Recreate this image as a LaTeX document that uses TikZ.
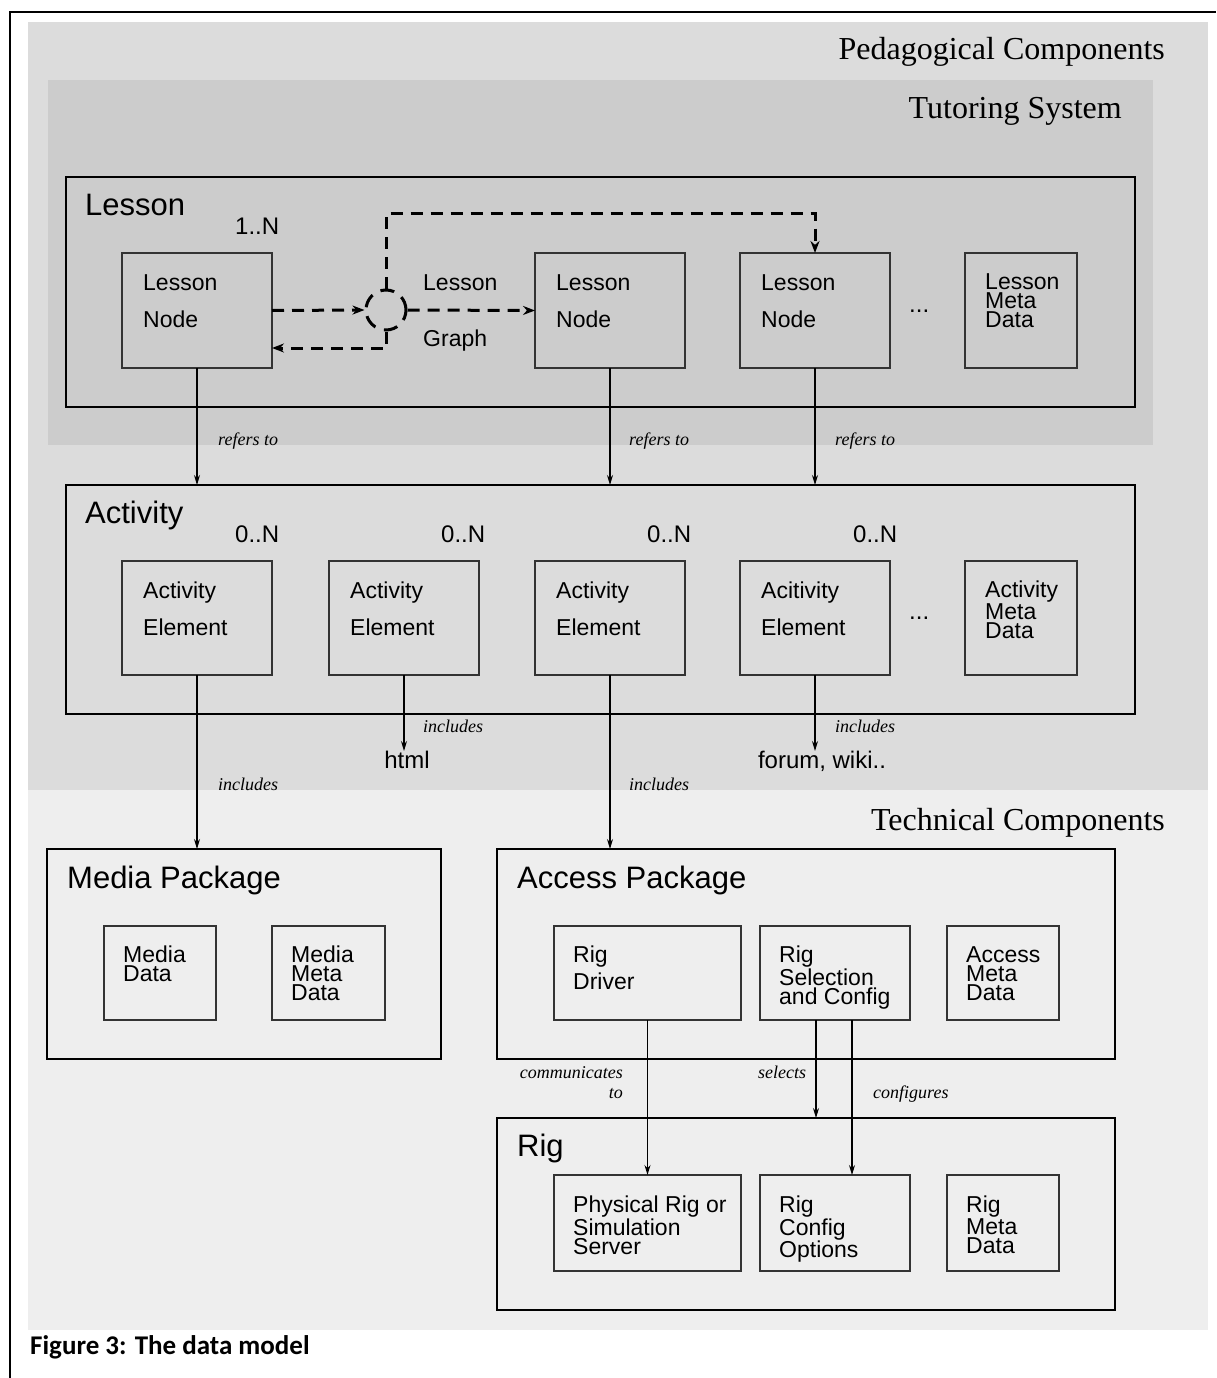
\documentclass[tikz,border=0pt]{standalone}
\usepackage{fontspec}
\setmainfont{Liberation Serif}
\setsansfont{Liberation Sans}
\newfontfamily\capfont{Carlito}
\usetikzlibrary{arrows.meta,calc}

\definecolor{pedbg}{HTML}{DCDCDC}
\definecolor{tutbg}{HTML}{CCCCCC}
\definecolor{techbg}{HTML}{EEEEEE}

\begin{document}
\begin{tikzpicture}[x=1pt,y=-1pt,
  frame/.style={draw=black, line width=1.4pt, inner sep=0pt, outer sep=0pt, anchor=north west},
  box/.style={draw=black!80, line width=1.1pt, inner sep=0pt, outer sep=0pt, anchor=north west},
  arr/.style={line width=1.1pt, -{Stealth[length=10pt,width=6pt]}},
  dasharr/.style={line width=3pt, dash pattern=on 12pt off 8pt, -{Stealth[length=12pt,width=9pt]}},
  txt/.style={font=\sffamily\fontsize{23}{37}\selectfont, align=left, inner sep=0pt, anchor=north west},
  mid/.style={font=\sffamily\fontsize{23}{27}\selectfont, align=left, inner sep=0pt, anchor=north west},
  tight/.style={font=\sffamily\fontsize{23}{19}\selectfont, align=left, inner sep=0pt, anchor=north west},
  ttl/.style={font=\sffamily\fontsize{31}{37}\selectfont, inner sep=0pt, anchor=base west},
  mult/.style={font=\sffamily\fontsize{24}{28}\selectfont, inner sep=0pt, anchor=base west},
  lab/.style={font=\itshape\fontsize{18}{20}\selectfont, inner sep=0pt, anchor=base west},
  head/.style={font=\fontsize{32}{36}\selectfont, inner sep=0pt, anchor=base east},
]
\useasboundingbox (0,0) rectangle (1216,1378);

% page frame
\draw[line width=1.6pt] (10,1378) -- (10,12) -- (1216,12);

% component areas
\fill[pedbg] (28,22) rectangle (1208,790);
\fill[techbg] (28,790) rectangle (1208,1330);
\fill[tutbg] (48,80) rectangle (1153,445);

\node[head] (ped) at (1165,60) {Pedagogical Components};
\node[head] (tut) at (1122,118) {Tutoring System};
\node[head] (tech) at (1165,830) {Technical Components};

% ---------- Lesson ----------
\node[frame, fill=tutbg, minimum width=1069, minimum height=230] (lesson) at (66,177) {};
\node[ttl] (lessont) at (85,215) {Lesson};
\node[mult] (lmult) at (235,234) {1..N};

\node[box, minimum width=150, minimum height=115] (ln1) at (122,253) {};
\node[box, minimum width=150, minimum height=115] (ln2) at (535,253) {};
\node[box, minimum width=150, minimum height=115] (ln3) at (740,253) {};
\node[box, minimum width=112, minimum height=115] (lmd) at (965,253) {};
\node[txt] (ln1t) at ($(ln1.north west)+(21,21)$) {Lesson\\Node};
\node[txt] (ln2t) at ($(ln2.north west)+(21,21)$) {Lesson\\Node};
\node[txt] (ln3t) at ($(ln3.north west)+(21,21)$) {Lesson\\Node};
\node[tight] (lmdt) at ($(lmd.north west)+(20,20)$) {Lesson\\Meta\\Data};
\node[mult] (ldots) at (909,312) {...};

% lesson graph hub
\node[circle, draw, line width=3pt, dash pattern=on 14pt off 9pt, minimum size=40, inner sep=0pt] (hub) at (386,310) {};
\node[txt] (lgt) at (423,274) {Lesson};
\node[txt] (lgb) at (423,330) {Graph};
\coordinate (topy) at (0,213);
\coordinate (backy) at (0,348);
\draw[dasharr] (ln1.east) -- (hub.west);
\draw[dasharr] (hub.east) -- (ln2.west);
\draw[dasharr] (hub.north) -- (hub.north |- topy) -| (ln3.north);
\draw[dasharr] (hub.south) |- (ln1.east |- backy);

% ---------- Activity ----------
\node[frame, fill=pedbg, minimum width=1069, minimum height=229] (act) at (66,485) {};
\node[ttl] (actt) at (85,523) {Activity};
\node[mult] (am1) at (235,542) {0..N};
\node[mult] (am2) at (441,542) {0..N};
\node[mult] (am3) at (647,542) {0..N};
\node[mult] (am4) at (853,542) {0..N};

\node[box, minimum width=150, minimum height=114] (ae1) at (122,561) {};
\node[box, minimum width=150, minimum height=114] (ae2) at (329,561) {};
\node[box, minimum width=150, minimum height=114] (ae3) at (535,561) {};
\node[box, minimum width=150, minimum height=114] (ae4) at (740,561) {};
\node[box, minimum width=112, minimum height=114] (amd) at (965,561) {};
\node[txt] (ae1t) at ($(ae1.north west)+(21,21)$) {Activity\\Element};
\node[txt] (ae2t) at ($(ae2.north west)+(21,21)$) {Activity\\Element};
\node[txt] (ae3t) at ($(ae3.north west)+(21,21)$) {Activity\\Element};
\node[txt] (ae4t) at ($(ae4.north west)+(21,21)$) {Acitivity\\Element};
\node[tight] (amdt) at ($(amd.north west)+(20,20)$) {Activity\\Meta\\Data};
\node[mult] (adots) at (909,619) {...};

% refers to
\draw[arr] (ln1.south) -- (ln1.south |- act.north);
\draw[arr] (ln2.south) -- (ln2.south |- act.north);
\draw[arr] (ln3.south) -- (ln3.south |- act.north);
\node[lab] (r1) at (218,445) {refers to};
\node[lab] (r2) at (629,445) {refers to};
\node[lab] (r3) at (835,445) {refers to};

% included content
\node[mult, anchor=north] (html) at (407,751) {html};
\node[mult, anchor=north] (forum) at (822,751) {forum, wiki..};

% ---------- Media Package ----------
\node[frame, fill=techbg, minimum width=394, minimum height=210] (media) at (47,849) {};
\node[ttl] (mediat) at (67,888) {Media Package};
\node[box, minimum width=112, minimum height=94] (md) at (104,926) {};
\node[box, minimum width=113, minimum height=94] (mmd) at (272,926) {};
\node[tight] (mdt) at ($(md.north west)+(19,20)$) {Media\\Data};
\node[tight] (mmdt) at ($(mmd.north west)+(19,20)$) {Media\\Meta\\Data};

% ---------- Access Package ----------
\node[frame, fill=techbg, minimum width=618, minimum height=210] (acc) at (497,849) {};
\node[ttl] (acct) at (517,888) {Access Package};
\node[box, minimum width=187, minimum height=94] (rd) at (554,926) {};
\node[box, minimum width=150, minimum height=94] (rsc) at (760,926) {};
\node[box, minimum width=112, minimum height=94] (amd2) at (947,926) {};
\node[mid] (rdt) at ($(rd.north west)+(19,20)$) {Rig\\Driver};
\node[tight] (rsct) at ($(rsc.north west)+(19,20)$) {Rig\\Selection\\and Config};
\node[tight] (amd2t) at ($(amd2.north west)+(19,20)$) {Access\\Meta\\Data};

% includes
\draw[arr] (ae1.south) -- (ae1.south |- media.north);
\draw[arr] (ae2.south) -- (ae2.south |- html.north);
\draw[arr] (ae3.south) -- (ae3.south |- acc.north);
\draw[arr] (ae4.south) -- (ae4.south |- forum.north);
\node[lab] (i1) at (218,790) {includes};
\node[lab] (i2) at (423,732) {includes};
\node[lab] (i3) at (629,790) {includes};
\node[lab] (i4) at (835,732) {includes};

% ---------- Rig ----------
\node[frame, fill=techbg, minimum width=618, minimum height=192] (rig) at (497,1118) {};
\node[ttl] (rigt) at (517,1156) {Rig};
\node[box, minimum width=187, minimum height=96] (phys) at (554,1175) {};
\node[box, minimum width=150, minimum height=96] (rco) at (760,1175) {};
\node[box, minimum width=112, minimum height=96] (rmd) at (947,1175) {};
\node[tight] (physt) at ($(phys.north west)+(19,21)$) {Physical Rig or\\Simulation\\Server};
\node[tight] (rcot) at ($(rco.north west)+(19,21)$) {Rig\\Config\\Options};
\node[tight] (rmdt) at ($(rmd.north west)+(19,21)$) {Rig\\Meta\\Data};

% technical relations
\coordinate (selx) at ($(rsc.south)+(-19,0)$);
\coordinate (cfgx) at ($(rsc.south)+(17,0)$);
\draw[arr] (rd.south) -- (phys.north);
\draw[arr] (selx) -- (selx |- rig.north);
\draw[arr] (cfgx) -- (cfgx |- rco.north);
\node[lab, align=right, anchor=base east] (comm) at (623,1098) {communicates\\to};
\node[lab] (sel) at (758,1078) {selects};
\node[lab] (cfg) at (873,1098) {configures};

% caption
\node[font=\capfont\bfseries\fontsize{27}{30}\selectfont, inner sep=0pt, anchor=base west] (cap) at (30,1354) {Figure 3: The data model};
\end{tikzpicture}
\end{document}
